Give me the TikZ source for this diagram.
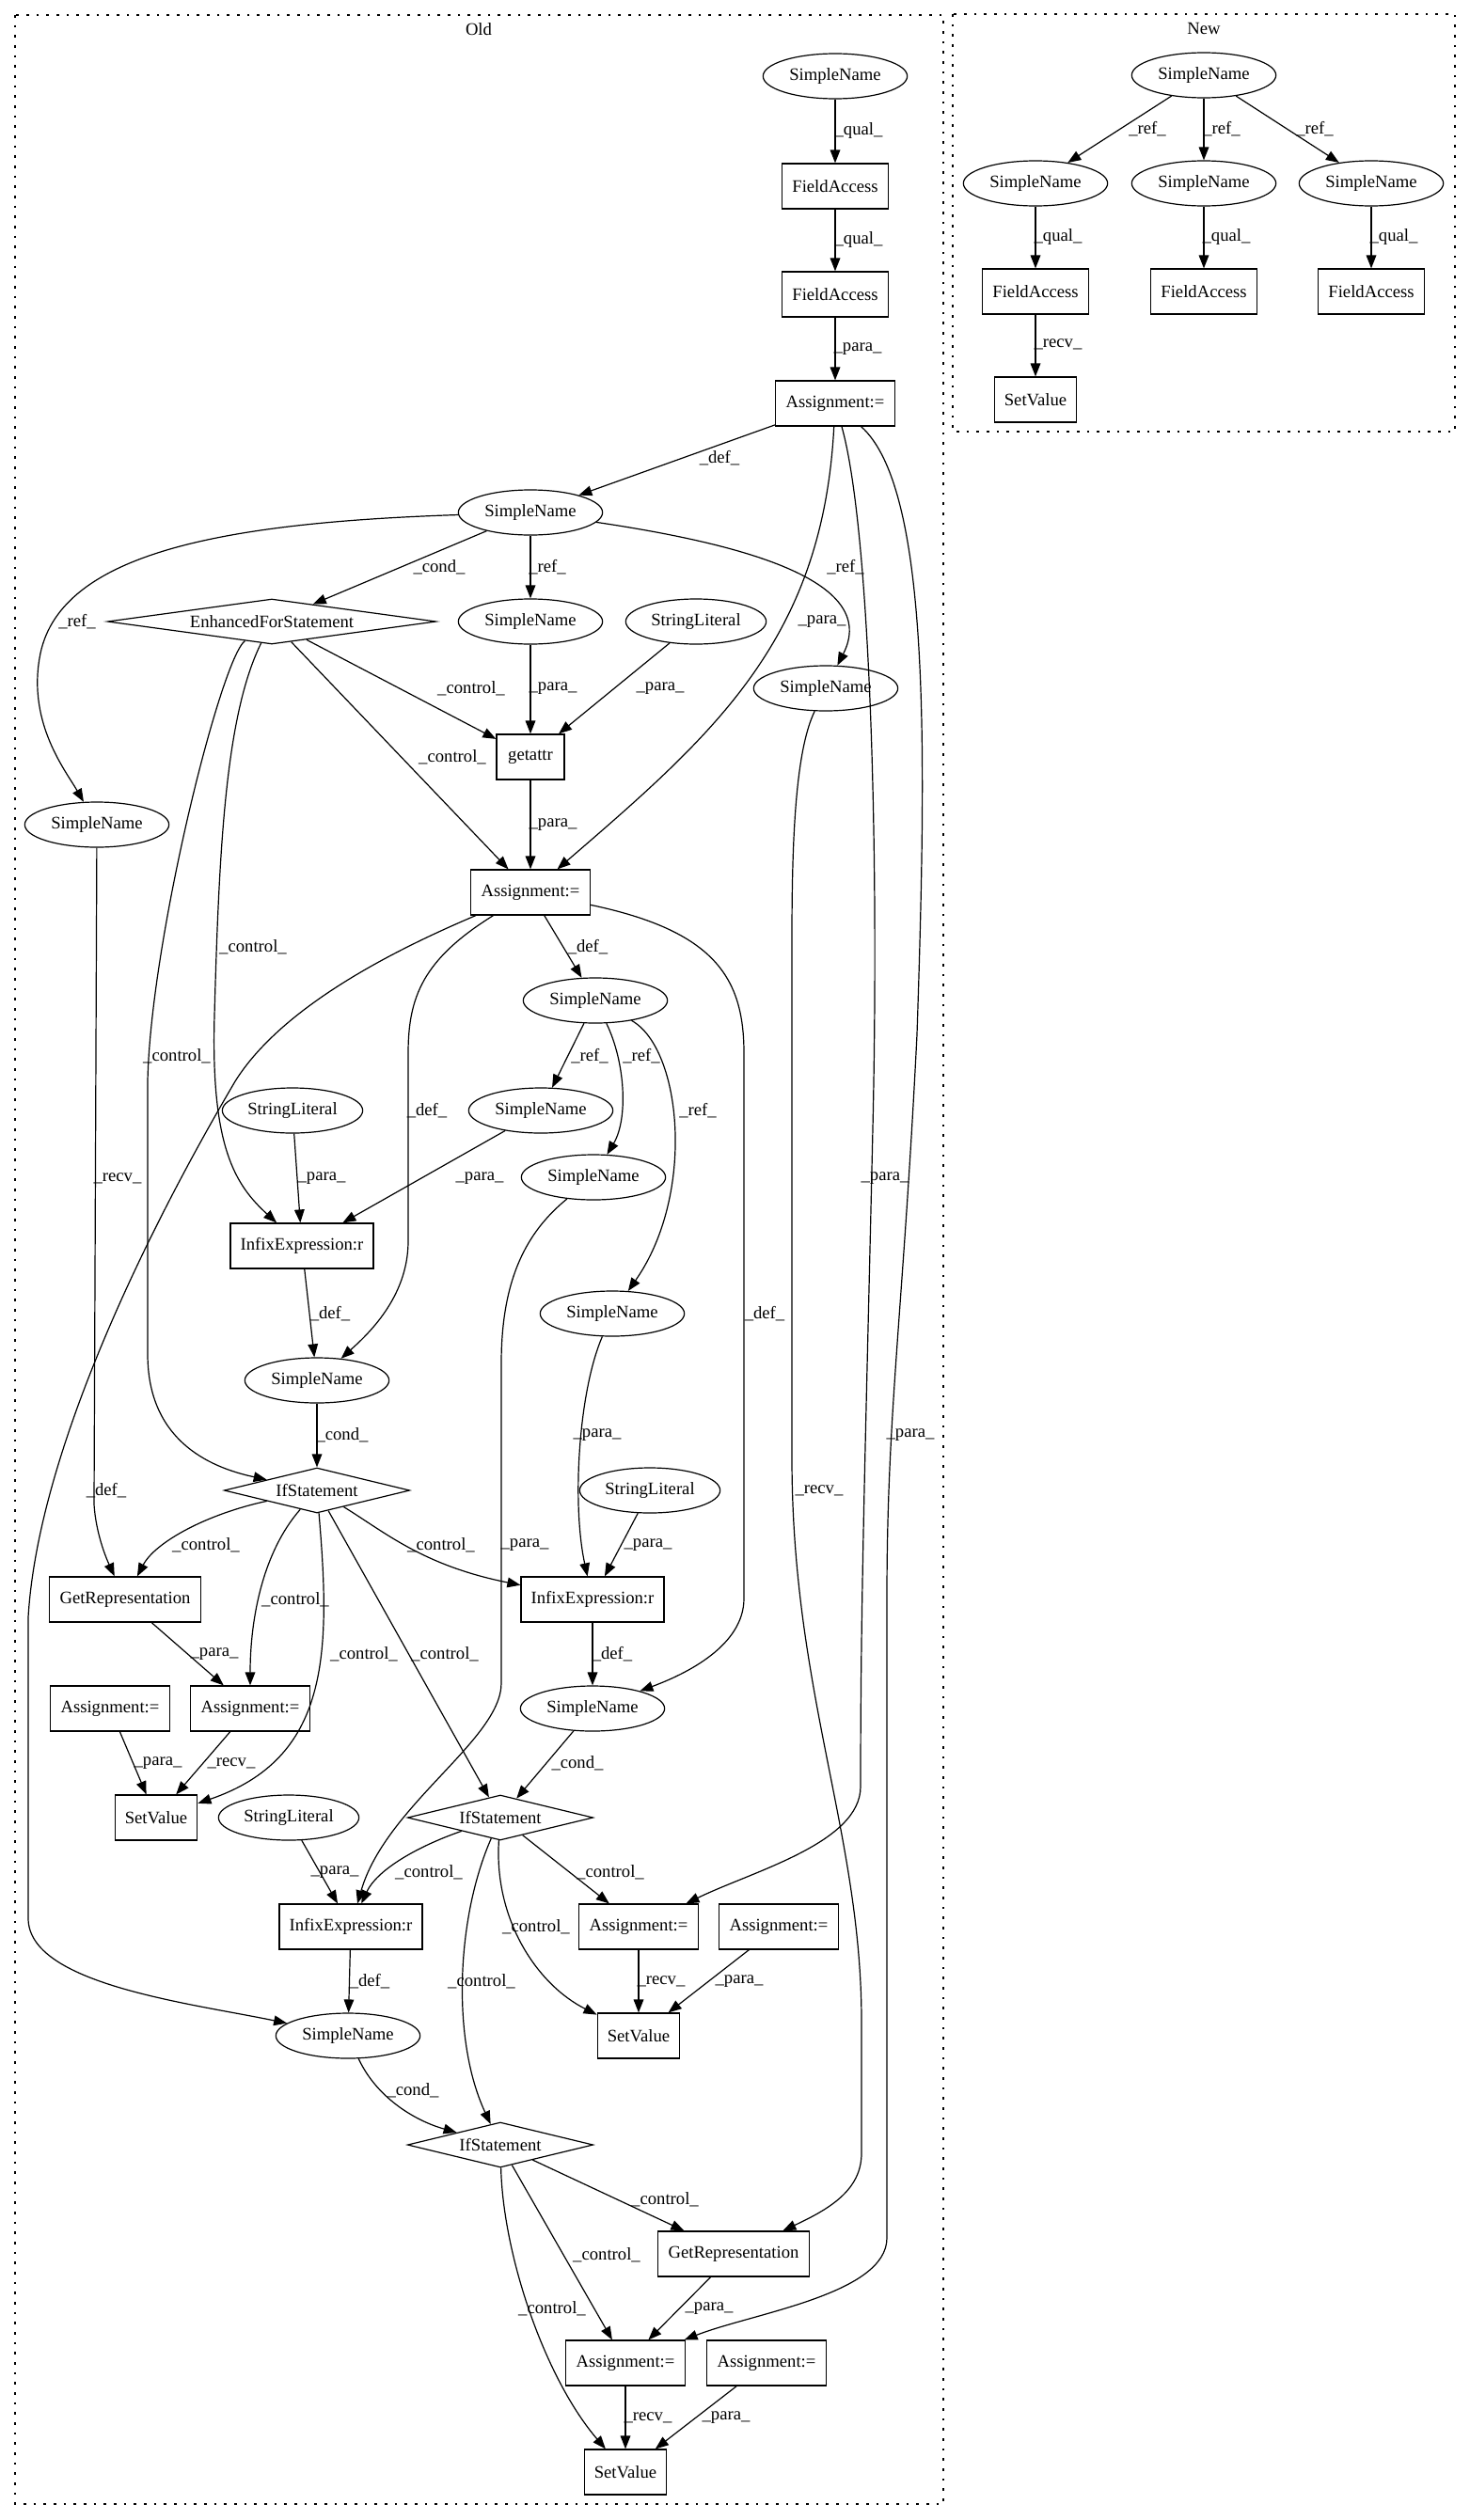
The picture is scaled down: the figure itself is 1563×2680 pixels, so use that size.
\documentclass[tikz,border=0pt]{standalone}
\usepackage{fontspec}
\setmainfont{Liberation Serif}
\usetikzlibrary{arrows.meta,shapes.geometric}

\begin{document}
\begin{tikzpicture}[x=0.75pt,y=-0.75pt,
    font=\fontsize{14pt}{16pt}\selectfont,
    ellnode/.style={ellipse,draw,line width=0.9pt,minimum width=115pt,minimum height=36pt,inner sep=0pt},
    litnode/.style={ellnode,minimum width=112pt},
    rectnode/.style={rectangle,draw,line width=0.9pt,minimum width=54pt,minimum height=36pt,inner xsep=8pt,inner ysep=0pt},
    dianode/.style={diamond,draw,line width=0.9pt,aspect=4,minimum width=148pt,minimum height=36pt,inner sep=0pt},
    conn/.style={-{Triangle[length=10.5pt,width=8pt]},line width=0.9pt},
    edgelab/.style={inner sep=0pt},
    cluster/.style={draw,line width=0.9pt,dash pattern=on 2pt off 6pt}]
    \useasboundingbox (0,0) rectangle (1563,2680);

    % Clusters
    \draw[cluster] (16,16) rectangle (1003,2663);
    \draw[cluster] (1013,15) rectangle (1547,459);
    \node (oldlab) at (509,31) {Old};
    \node (newlab) at (1280,30) {New};

    % Old: nodes
    \node[ellnode] (snTop) at (888,81) {SimpleName};
    \node[rectnode] (faA) at (888,198) {FieldAccess};
    \node[rectnode] (faB) at (888,313) {FieldAccess};
    \node[rectnode] (asgTop) at (888,429) {Assignment:=};
    \node[ellnode] (snLoop) at (564,545) {SimpleName};
    \node[dianode,aspect=7,minimum width=262pt] (efs) at (289,661) {EnhancedForStatement};
    \node[ellnode] (snB) at (564,661) {SimpleName};
    \node[litnode] (slA) at (740,661) {StringLiteral};
    \node[ellnode] (snC) at (878,732) {SimpleName};
    \node[rectnode] (getattr) at (564,805) {getattr};
    \node[ellnode] (snD) at (103,877) {SimpleName};
    \node[rectnode] (asgMid) at (564,949) {Assignment:=};
    \node[ellnode] (snE) at (633,1064) {SimpleName};
    \node[ellnode] (snF) at (575,1181) {SimpleName};
    \node[litnode] (slB) at (311,1181) {StringLiteral};
    \node[ellnode] (snG) at (631,1252) {SimpleName};
    \node[rectnode] (infA) at (321,1325) {InfixExpression:r};
    \node[ellnode] (snH) at (651,1397) {SimpleName};
    \node[ellnode] (snI) at (337,1468) {SimpleName};
    \node[dianode] (ifA) at (337,1585) {IfStatement};
    \node[litnode] (slC) at (691,1585) {StringLiteral};
    \node[rectnode] (grA) at (133,1701) {GetRepresentation};
    \node[rectnode] (infB) at (630,1701) {InfixExpression:r};
    \node[rectnode] (asgL) at (117,1817) {Assignment:=};
    \node[rectnode] (asgR) at (266,1817) {Assignment:=};
    \node[ellnode] (snJ) at (630,1817) {SimpleName};
    \node[rectnode] (svA) at (166,1933) {SetValue};
    \node[litnode] (slD) at (307,1933) {StringLiteral};
    \node[dianode] (ifB) at (532,1933) {IfStatement};
    \node[rectnode] (infC) at (373,2049) {InfixExpression:r};
    \node[rectnode] (asgB1) at (679,2049) {Assignment:=};
    \node[rectnode] (asgB2) at (828,2049) {Assignment:=};
    \node[ellnode] (snK) at (370,2165) {SimpleName};
    \node[rectnode] (svB) at (679,2165) {SetValue};
    \node[dianode] (ifC) at (532,2281) {IfStatement};
    \node[rectnode] (grB) at (780,2397) {GetRepresentation};
    \node[rectnode] (asgC1) at (665,2513) {Assignment:=};
    \node[rectnode] (asgC2) at (815,2513) {Assignment:=};
    \node[rectnode] (svC) at (665,2629) {SetValue};

    % Old: edges
    \draw[conn] (snTop) -- (faA) node[edgelab] at (913,139) {\_qual\_};
    \draw[conn] (faA) -- (faB) node[edgelab] at (913,255) {\_qual\_};
    \draw[conn] (faB) -- (asgTop) node[edgelab] at (912,371) {\_para\_};
    \draw[conn] (asgTop) -- (snLoop) node[edgelab] at (765,487) {\_def\_};
    \draw[conn] (asgTop) .. controls (875,680) and (760,780) .. (asgMid) node[edgelab] at (874,661) {\_para\_};
    \draw[conn] (asgTop) .. controls (925,560) and (935,900) .. (928,1200) .. controls (920,1550) and (915,1700) .. (915,1900) .. controls (915,1960) and (800,1990) .. (asgB1) node[edgelab] at (941,1253) {\_para\_};
    \draw[conn] (asgTop) .. controls (990,520) and (985,800) .. (975,1100) .. controls (960,1400) and (943,1500) .. (943,1700) -- (943,2380) .. controls (943,2440) and (800,2460) .. (asgC1) node[edgelab] at (968,1526) {\_para\_};

    \draw[conn] (snLoop) .. controls (230,556) and (60,590) .. (42,700) .. controls (30,770) and (70,820) .. (snD) node[edgelab] at (82,661) {\_ref\_};
    \draw[conn] (snLoop) -- (efs) node[edgelab] at (467,603) {\_cond\_};
    \draw[conn] (snLoop) -- (snB) node[edgelab] at (582,603) {\_ref\_};
    \draw[conn] (snLoop) .. controls (800,580) and (935,620) .. (snC) node[edgelab] at (899,603) {\_ref\_};

    \draw[conn] (efs) -- (getattr) node[edgelab] at (501,732) {\_control\_};
    \draw[conn] (efs) -- (asgMid) node[edgelab] at (481,805) {\_control\_};
    \draw[conn] (efs) .. controls (240,760) and (233,900) .. (228,1080) .. controls (224,1220) and (250,1260) .. (infA) node[edgelab] at (269,1007) {\_control\_};
    \draw[conn] (efs) .. controls (235,700) and (160,1000) .. (157,1150) -- (157,1440) .. controls (157,1530) and (220,1560) .. (ifA) node[edgelab] at (188,1123) {\_control\_};

    \draw[conn] (snB) -- (getattr) node[edgelab] at (588,732) {\_para\_};
    \draw[conn] (slA) -- (getattr) node[edgelab] at (702,732) {\_para\_};
    \draw[conn] (getattr) -- (asgMid) node[edgelab] at (588,877) {\_para\_};

    \draw[conn] (asgMid) -- (snE) node[edgelab] at (625,1007) {\_def\_};
    \draw[conn] (asgMid) .. controls (450,1020) and (434,1060) .. (434,1120) -- (434,1320) .. controls (434,1380) and (390,1420) .. (snI) node[edgelab] at (454,1181) {\_def\_};
    \draw[conn] (asgMid) .. controls (420,1010) and (300,1070) .. (250,1150) .. controls (150,1320) and (40,1550) .. (30,1720) -- (30,2040) .. controls (30,2110) and (200,2130) .. (snK) node[edgelab] at (113,1585) {\_def\_};
    \draw[conn] (asgMid) .. controls (760,990) and (791,1040) .. (791,1120) -- (791,1700) .. controls (791,1750) and (730,1780) .. (snJ) node[edgelab] at (813,1397) {\_def\_};

    \draw[conn] (snD) -- (100,1600) .. controls (102,1630) and (112,1655) .. (grA) node[edgelab] at (125,1253) {\_recv\_};
    \draw[conn] (snC) .. controls (845,800) and (842,900) .. (842,1000) -- (842,1550) .. controls (842,1800) and (916,1950) .. (916,2150) -- (916,2290) .. controls (916,2330) and (880,2350) .. (grB) node[edgelab] at (871,1585) {\_recv\_};

    \draw[conn] (snE) -- (snF) node[edgelab] at (627,1123) {\_ref\_};
    \draw[conn] (snE) .. controls (665,1130) and (668,1190) .. (snG) node[edgelab] at (682,1123) {\_ref\_};
    \draw[conn] (snE) .. controls (725,1115) and (740,1270) .. (snH) node[edgelab] at (742,1181) {\_ref\_};
    \draw[conn] (snF) -- (infA) node[edgelab] at (510,1253) {\_para\_};
    \draw[conn] (slB) -- (infA) node[edgelab] at (342,1253) {\_para\_};
    \draw[conn] (infA) -- (snI) node[edgelab] at (351,1397) {\_def\_};
    \draw[conn] (snI) -- (ifA) node[edgelab] at (364,1526) {\_cond\_};
    \draw[conn] (snG) .. controls (560,1310) and (533,1360) .. (533,1450) -- (533,1790) .. controls (533,1850) and (410,1920) .. (infC) node[edgelab] at (558,1643) {\_para\_};
    \draw[conn] (snH) .. controls (615,1480) and (608,1600) .. (infB) node[edgelab] at (635,1526) {\_para\_};
    \draw[conn] (slC) -- (infB) node[edgelab] at (689,1643) {\_para\_};

    \draw[conn] (ifA) .. controls (220,1610) and (165,1640) .. (grA) node[edgelab] at (219,1643) {\_control\_};
    \draw[conn] (ifA) .. controls (280,1650) and (266,1720) .. (asgR) node[edgelab] at (314,1701) {\_control\_};
    \draw[conn] (ifA) .. controls (352,1760) and (350,1870) .. (svA) node[edgelab] at (387,1759) {\_control\_};
    \draw[conn] (ifA) -- (ifB) node[edgelab] at (473,1759) {\_control\_};
    \draw[conn] (ifA) .. controls (410,1630) and (450,1665) .. (infB) node[edgelab] at (469,1643) {\_control\_};
    \draw[conn] (grA) -- (asgR) node[edgelab] at (228,1759) {\_para\_};
    \draw[conn] (asgL) -- (svA) node[edgelab] at (168,1875) {\_para\_};
    \draw[conn] (asgR) -- (svA) node[edgelab] at (246,1875) {\_recv\_};
    \draw[conn] (infB) -- (snJ) node[edgelab] at (651,1759) {\_def\_};
    \draw[conn] (snJ) -- (ifB) node[edgelab] at (614,1875) {\_cond\_};

    \draw[conn] (ifB) .. controls (440,1965) and (400,1990) .. (infC) node[edgelab] at (456,1991) {\_control\_};
    \draw[conn] (ifB) -- (asgB1) node[edgelab] at (649,1991) {\_control\_};
    \draw[conn] (ifB) .. controls (525,2040) and (570,2110) .. (svB) node[edgelab] at (570,2049) {\_control\_};
    \draw[conn] (ifB) .. controls (485,2040) and (480,2170) .. (ifC) node[edgelab] at (512,2107) {\_control\_};
    \draw[conn] (slD) -- (infC) node[edgelab] at (356,1991) {\_para\_};
    \draw[conn] (infC) -- (snK) node[edgelab] at (393,2107) {\_def\_};
    \draw[conn] (asgB1) -- (svB) node[edgelab] at (703,2107) {\_recv\_};
    \draw[conn] (asgB2) -- (svB) node[edgelab] at (786,2107) {\_para\_};

    \draw[conn] (snK) .. controls (400,2230) and (440,2255) .. (ifC) node[edgelab] at (439,2223) {\_cond\_};
    \draw[conn] (ifC) -- (grB) node[edgelab] at (707,2339) {\_control\_};
    \draw[conn] (ifC) -- (asgC1) node[edgelab] at (645,2398) {\_control\_};
    \draw[conn] (ifC) .. controls (535,2400) and (580,2530) .. (svC) node[edgelab] at (587,2455) {\_control\_};
    \draw[conn] (grB) -- (asgC1) node[edgelab] at (754,2455) {\_para\_};
    \draw[conn] (asgC1) -- (svC) node[edgelab] at (689,2571) {\_recv\_};
    \draw[conn] (asgC2) -- (svC) node[edgelab] at (772,2571) {\_para\_};

    % New
    \node[ellnode] (nTop) at (1280,80) {SimpleName};
    \foreach \i/\x/\rx in {1/1101/1220, 2/1280/1299, 3/1458/1398} {
        \node[ellnode] (n\i) at (\x,195) {SimpleName};
        \node[rectnode] (fn\i) at (\x,310) {FieldAccess};
        \draw[conn] (nTop) -- (n\i) node[edgelab] at (\rx,137) {\_ref\_};
        \draw[conn] (n\i) -- (fn\i) node[edgelab] at (\x+24,252) {\_qual\_};
    }
    \node[rectnode] (svN) at (1101,425) {SetValue};
    \draw[conn] (fn1) -- (svN) node[edgelab] at (1125,366) {\_recv\_};
\end{tikzpicture}
\end{document}
